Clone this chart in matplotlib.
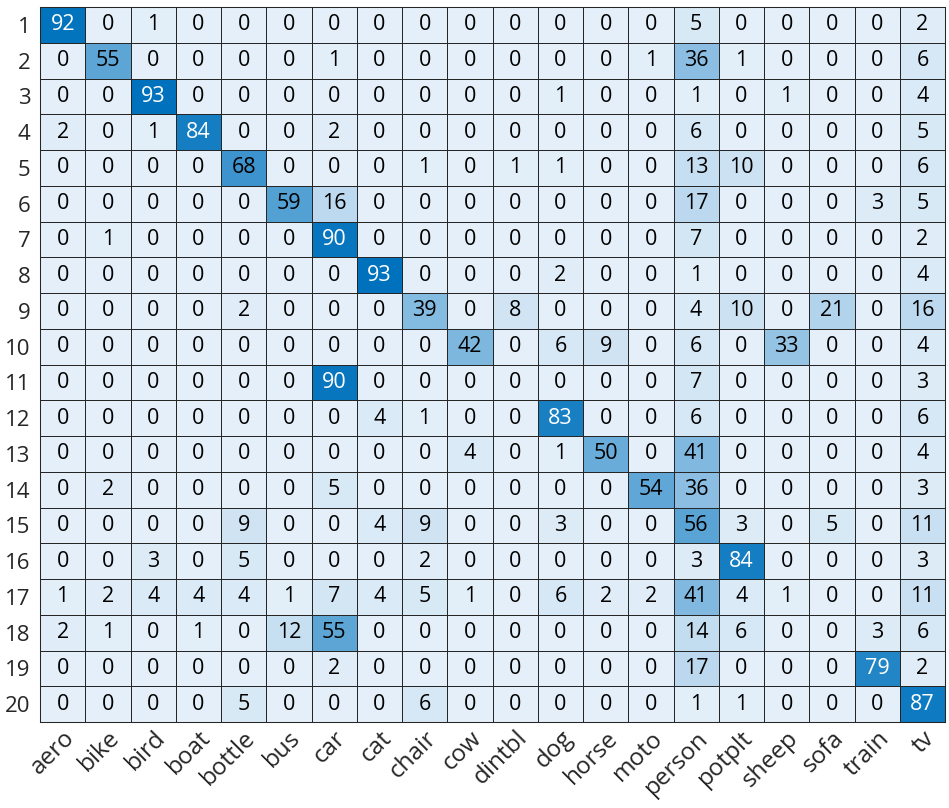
import numpy as np
import matplotlib
matplotlib.use("Agg")
import matplotlib.pyplot as plt
import matplotlib.transforms as mtransforms
from matplotlib.colors import LinearSegmentedColormap

plt.rcParams["font.family"] = ["Open Sans", "DejaVu Sans"]

# class names on the x axis, row numbers on the y axis
classes = ["aero", "bike", "bird", "boat", "bottle", "bus", "car", "cat", "chair", "cow",
           "dintbl", "dog", "horse", "moto", "person", "potplt", "sheep", "sofa", "train", "tv"]
row_labels = [str(i) for i in range(1, 21)]

row1 = [92, 0, 1, 0, 0, 0, 0, 0, 0, 0, 0, 0, 0, 0, 5, 0, 0, 0, 0, 2]
row2 = [0, 55, 0, 0, 0, 0, 1, 0, 0, 0, 0, 0, 0, 1, 36, 1, 0, 0, 0, 6]
row3 = [0, 0, 93, 0, 0, 0, 0, 0, 0, 0, 0, 1, 0, 0, 1, 0, 1, 0, 0, 4]
row4 = [2, 0, 1, 84, 0, 0, 2, 0, 0, 0, 0, 0, 0, 0, 6, 0, 0, 0, 0, 5]
row5 = [0, 0, 0, 0, 68, 0, 0, 0, 1, 0, 1, 1, 0, 0, 13, 10, 0, 0, 0, 6]
row6 = [0, 0, 0, 0, 0, 59, 16, 0, 0, 0, 0, 0, 0, 0, 17, 0, 0, 0, 3, 5]
row7 = [0, 1, 0, 0, 0, 0, 90, 0, 0, 0, 0, 0, 0, 0, 7, 0, 0, 0, 0, 2]
row8 = [0, 0, 0, 0, 0, 0, 0, 93, 0, 0, 0, 2, 0, 0, 1, 0, 0, 0, 0, 4]
row9 = [0, 0, 0, 0, 2, 0, 0, 0, 39, 0, 8, 0, 0, 0, 4, 10, 0, 21, 0, 16]
row10 = [0, 0, 0, 0, 0, 0, 0, 0, 0, 42, 0, 6, 9, 0, 6, 0, 33, 0, 0, 4]
row11 = [0, 0, 0, 0, 0, 0, 90, 0, 0, 0, 0, 0, 0, 0, 7, 0, 0, 0, 0, 3]
row12 = [0, 0, 0, 0, 0, 0, 0, 4, 1, 0, 0, 83, 0, 0, 6, 0, 0, 0, 0, 6]
row13 = [0, 0, 0, 0, 0, 0, 0, 0, 0, 4, 0, 1, 50, 0, 41, 0, 0, 0, 0, 4]
row14 = [0, 2, 0, 0, 0, 0, 5, 0, 0, 0, 0, 0, 0, 54, 36, 0, 0, 0, 0, 3]
row15 = [0, 0, 0, 0, 9, 0, 0, 4, 9, 0, 0, 3, 0, 0, 56, 3, 0, 5, 0, 11]
row16 = [0, 0, 3, 0, 5, 0, 0, 0, 2, 0, 0, 0, 0, 0, 3, 84, 0, 0, 0, 3]
row17 = [1, 2, 4, 4, 4, 1, 7, 4, 5, 1, 0, 6, 2, 2, 41, 4, 1, 0, 0, 11]
row18 = [2, 1, 0, 1, 0, 12, 55, 0, 0, 0, 0, 0, 0, 0, 14, 6, 0, 0, 3, 6]
row19 = [0, 0, 0, 0, 0, 0, 2, 0, 0, 0, 0, 0, 0, 0, 17, 0, 0, 0, 79, 2]
row20 = [0, 0, 0, 0, 5, 0, 0, 0, 6, 0, 0, 0, 0, 0, 1, 1, 0, 0, 0, 87]

conf = np.array([row1, row2, row3, row4, row5, row6, row7, row8, row9, row10,
                 row11, row12, row13, row14, row15, row16, row17, row18, row19, row20])

# light blue -> matlab-ish blue
cmap = LinearSegmentedColormap.from_list("mblue", [(0.894, 0.937, 0.976), (0.0, 0.447, 0.741)])

fig = plt.figure(figsize=(9.49, 8.08), dpi=100)
ax = fig.add_axes([40 / 949, 1 - 722 / 808, 905 / 949, 715 / 808])

n = len(classes)
ax.pcolormesh(np.arange(n + 1), np.arange(n + 1), conf, cmap=cmap,
              vmin=conf.min(), vmax=conf.max(), edgecolors="#262626", linewidth=0.5)
ax.set_xlim(0, n)
ax.set_ylim(n, 0)

norm = plt.Normalize(conf.min(), conf.max())
for i in range(n):
    for j in range(n):
        v = conf[i, j]
        col = "white" if norm(v) > 0.8 else "black"
        ax.text(j + 0.5, i + 0.5, str(v), ha="center", va="center",
                fontsize=15.5, color=col)

ax.set_xticks(np.arange(n) + 0.5)
ax.set_xticklabels(classes, rotation=45, ha="right", va="top",
                   rotation_mode="anchor", fontsize=17.5)
# nudge rotated labels right/down like the original
shift = mtransforms.ScaledTranslation(9.5 / 72, -10 / 72, fig.dpi_scale_trans)
for lab in ax.get_xticklabels():
    lab.set_transform(lab.get_transform() + shift)
ax.set_yticks(np.arange(n) + 0.5)
ax.set_yticklabels(row_labels, fontsize=16)
ax.tick_params(axis="y", length=0, pad=7, colors="#262626")
ax.tick_params(axis="x", length=0, pad=3, colors="#262626")
for s in ax.spines.values():
    s.set_color("#262626")
    s.set_linewidth(0.75)

fig.savefig("out.png", dpi=100)
